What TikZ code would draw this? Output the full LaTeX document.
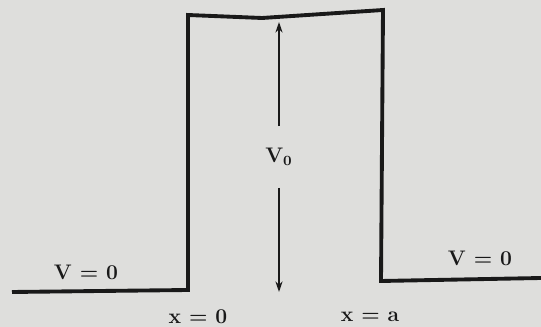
\documentclass[tikz,border=0pt]{standalone}
\usetikzlibrary{arrows.meta}
\definecolor{paper}{RGB}{222,222,220}
\definecolor{ink}{RGB}{25,25,25}
\tikzset{
  wall/.style={ink,line width=2.2pt,line join=miter},
  lbl/.style={ink,font=\large\bfseries},
  vec/.style={ink,line width=1pt,shorten <=9pt,-{Stealth[length=6pt,width=4pt]}}
}
\begin{document}
\begin{tikzpicture}[x=0.02cm,y=-0.02cm]
  \fill[paper] (0,0) rectangle (541,327);
  \useasboundingbox (0,0) rectangle (541,327);

  % barrier outline
  \coordinate (l0) at (12,292);
  \coordinate (l1) at (188,290);
  \coordinate (t1) at (188,15);
  \coordinate (t2) at (262,18);
  \coordinate (t3) at (383,10);
  \coordinate (r1) at (381,281);
  \coordinate (r0) at (541,278);
  \draw[wall] (l0)--(l1)--(t1)--(t2)--(t3)--(r1)--(r0);

  % height of the barrier
  \node[lbl] (v0) at (279,157) {V$_{\mathbf{0}}$};
  \coordinate (up) at (279,22);
  \coordinate (dn) at (279,292);
  \draw[vec] (v0)--(up);
  \draw[vec] (v0)--(dn);

  \node[lbl] (vl) at (86,272) {V = 0};
  \node[lbl] (vr) at (480,258) {V = 0};
  \node[lbl] (x0) at (198,317) {x = 0};
  \node[lbl] (xa) at (370,317) {x = a};
\end{tikzpicture}
\end{document}
